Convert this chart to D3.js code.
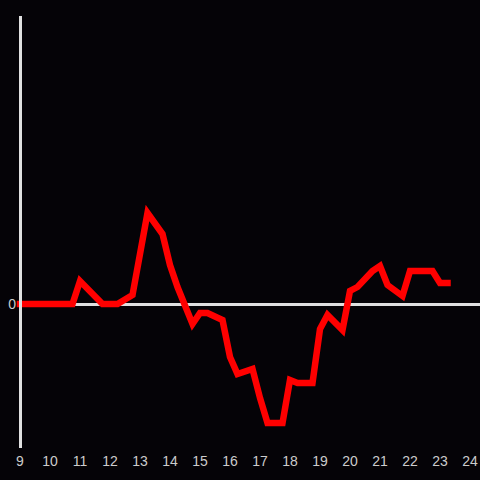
<!DOCTYPE html>
<html>
<head>
<meta charset="utf-8">
<script src="https://cdn.jsdelivr.net/npm/d3@7"></script>
<style>
  html, body { margin: 0; padding: 0; background: #050307; }
  svg { display: block; }
</style>
</head>
<body>
<script>
// Data (hour of day, value)
const hours = [9.0, 10.75, 11.0, 11.75, 12.25, 12.75, 13.25, 13.75, 14.0, 14.25, 14.75, 15.0, 15.25, 15.75,
  16.0, 16.25, 16.75, 17.0, 17.25, 17.75, 18.0, 18.25, 18.75, 19.0, 19.25, 19.75, 20.0, 20.25, 20.75,
  21.0, 21.25, 21.75, 22.0, 22.75, 23.0, 23.25];
const values = [0, 0, 23, 0, 0, 9, 91, 70, 39, 17, -20, -9, -9, -16,
  -53, -70, -65, -94, -119, -119, -76, -79, -79, -25, -11, -26, 13, 17, 33,
  38, 19, 8, 33, 33, 21, 21];
const xTicks = [9, 10, 11, 12, 13, 14, 15, 16, 17, 18, 19, 20, 21, 22, 23, 24];
const yTicks = [0];

const W = 480, H = 480;
const svg = d3.select("body").append("svg").attr("width", W).attr("height", H);
svg.append("rect").attr("width", W).attr("height", H).attr("fill", "#050307");

const x = d3.scaleLinear().domain([9, 24]).range([20, 470]);
const y = d3.scaleLinear().domain([-144, 288]).range([448, 16]);

// zero line
svg.append("line")
  .attr("x1", 20).attr("x2", 480)
  .attr("y1", y(0) + 0.5).attr("y2", y(0) + 0.5)
  .attr("stroke", "#e0e0e0").attr("stroke-width", 3);

// series line
const data = hours.map((h, i) => ({h, v: values[i]}));
svg.append("path")
  .datum(data)
  .attr("fill", "none")
  .attr("stroke", "#ff0000")
  .attr("stroke-width", 6.5)
  .attr("stroke-linejoin", "miter")
  .attr("stroke-linecap", "square")
  .attr("d", d3.line().x(d => x(d.h)).y(d => y(d.v)));

// y axis line
svg.append("line")
  .attr("x1", 20.5).attr("x2", 20.5)
  .attr("y1", 16).attr("y2", 448)
  .attr("stroke", "#e0e0e0").attr("stroke-width", 3);

// y tick labels
svg.selectAll("text.yt").data(yTicks).enter().append("text")
  .attr("class", "yt")
  .attr("x", 16).attr("y", d => y(d))
  .attr("dy", "0.35em")
  .attr("text-anchor", "end")
  .attr("fill", "#cccccc")
  .style("font", "14px 'Liberation Sans', Arial, sans-serif")
  .text(d => d);

// x tick labels
svg.selectAll("text.xt").data(xTicks).enter().append("text")
  .attr("class", "xt")
  .attr("x", d => x(d)).attr("y", 461)
  .attr("dy", "0.35em")
  .attr("text-anchor", "middle")
  .attr("fill", "#cccccc")
  .style("font", "14px 'Liberation Sans', Arial, sans-serif")
  .text(d => d);
</script>
</body>
</html>
